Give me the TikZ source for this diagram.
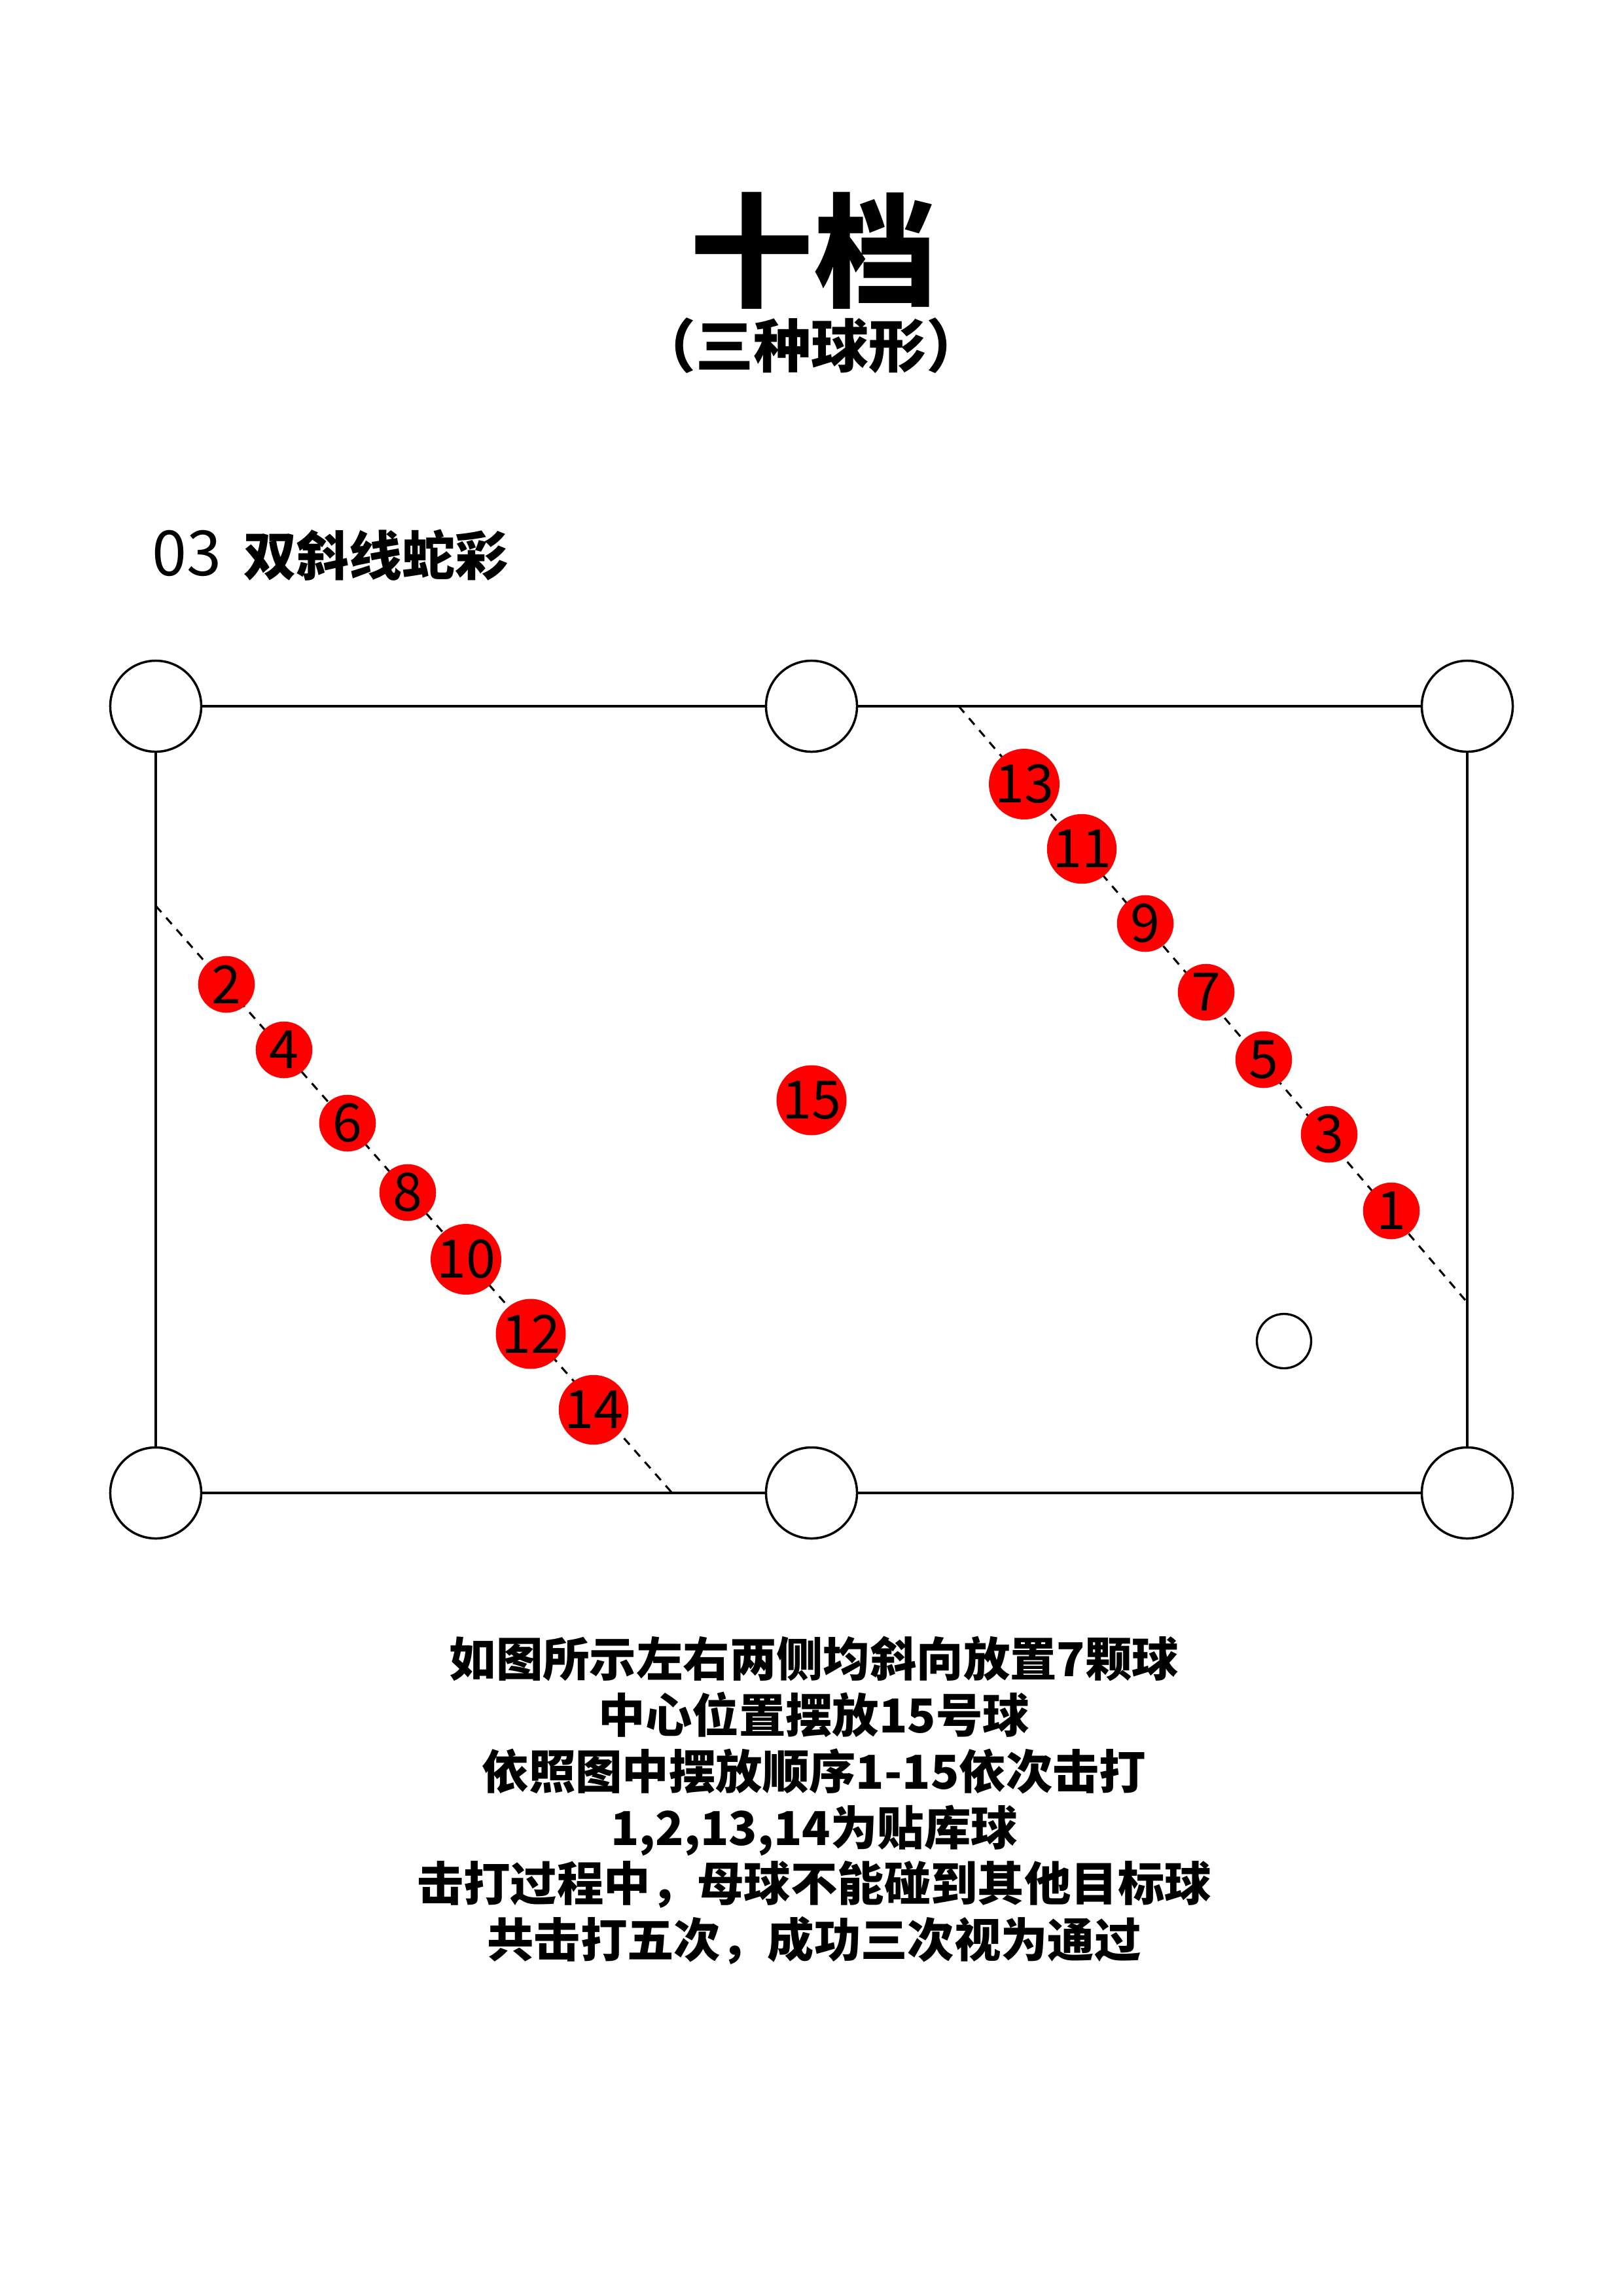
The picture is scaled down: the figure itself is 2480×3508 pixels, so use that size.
\documentclass[tikz,border=0pt]{standalone}
\usepackage{fontspec}
\setmainfont{Noto Sans CJK SC}
\definecolor{ballred}{RGB}{255,0,0}
\begin{document}
\begin{tikzpicture}[x=0.2409pt, y=-0.2409pt,
  pocket/.style={circle, draw=black, line width=0.84pt, minimum size=33.5pt, inner sep=0pt},
  rail/.style={draw=black, line width=0.84pt},
  guide/.style={draw=black, line width=0.75pt, dash pattern=on 3.1pt off 2.7pt},
  ball/.style={circle, fill=ballred, minimum size=20.86pt, inner sep=0pt,
    font=\fontsize{19.5}{19.5}\selectfont, text=black},
  cueball/.style={circle, draw=black, line width=0.8pt, minimum size=20pt, inner sep=0pt},
  title/.style={inner sep=0pt, font=\bfseries\fontsize{45.3}{45.3}\selectfont},
  subtitle/.style={inner sep=0pt, font=\bfseries\fontsize{21.2}{21.2}\selectfont},
  heading/.style={inner sep=0pt, anchor=west, font=\bfseries\fontsize{19.5}{19.5}\selectfont},
  body/.style={inner sep=0pt, align=center, font=\bfseries\fontsize{17.2}{20.67}\selectfont}
]
\useasboundingbox[fill=white] (0,0) rectangle (2480,3508);

% titles
\node[title] (t1) at (1243,383) {十档};
\node[subtitle] (t2) at (1239,528) {（三种球形）};
\node[heading] (h) at (232,848) {{\fontsize{23}{23}\selectfont\mdseries 03}\hspace{8pt}双斜线蛇彩};

% pockets
\node[pocket] (tl) at (238,1079) {};
\node[pocket] (tm) at (1240,1079) {};
\node[pocket] (tr) at (2242,1079) {};
\node[pocket] (bl) at (238,2281) {};
\node[pocket] (bm) at (1240,2281) {};
\node[pocket] (br) at (2242,2281) {};

% rails
\draw[rail] (tl) -- (tm);
\draw[rail] (tm) -- (tr);
\draw[rail] (bl) -- (bm);
\draw[rail] (bm) -- (br);
\draw[rail] (tl) -- (bl);
\draw[rail] (tr) -- (br);

% guide lines
\coordinate (la) at (238,1384);
\coordinate (lb) at (1027,2281);
\coordinate (ra) at (1465,1079);
\coordinate (rb) at (2242,1990);
\draw[guide] (la) -- (lb);
\draw[guide] (ra) -- (rb);

% right diagonal balls
\node[ball] (b13) at (1565,1198) {13};
\node[ball] (b11) at (1653,1297) {11};
\node[ball] (b9)  at (1750,1411) {9};
\node[ball] (b7)  at (1843,1516) {7};
\node[ball] (b5)  at (1931,1619) {5};
\node[ball] (b3)  at (2031,1733) {3};
\node[ball] (b1)  at (2126,1850) {1};

% left diagonal balls
\node[ball] (b2)  at (346,1504) {2};
\node[ball] (b4)  at (434,1604) {4};
\node[ball] (b6)  at (531,1716) {6};
\node[ball] (b8)  at (623,1822) {8};
\node[ball] (b10) at (712,1924) {10};
\node[ball] (b12) at (811,2038) {12};
\node[ball] (b14) at (907,2154) {14};

% center ball and cue ball
\node[ball] (b15) at (1240,1681) {15};
\node[cueball] (cue) at (1962,2049) {};

% description
\node[body] (desc) at (1244,2751) {如图所示左右两侧均斜向放置7颗球\\
中心位置摆放15号球\\
依照图中摆放顺序1-15依次击打\\
1,2,13,14为贴库球\\
击打过程中，母球不能碰到其他目标球\\
共击打五次，成功三次视为通过};
\end{tikzpicture}
\end{document}
